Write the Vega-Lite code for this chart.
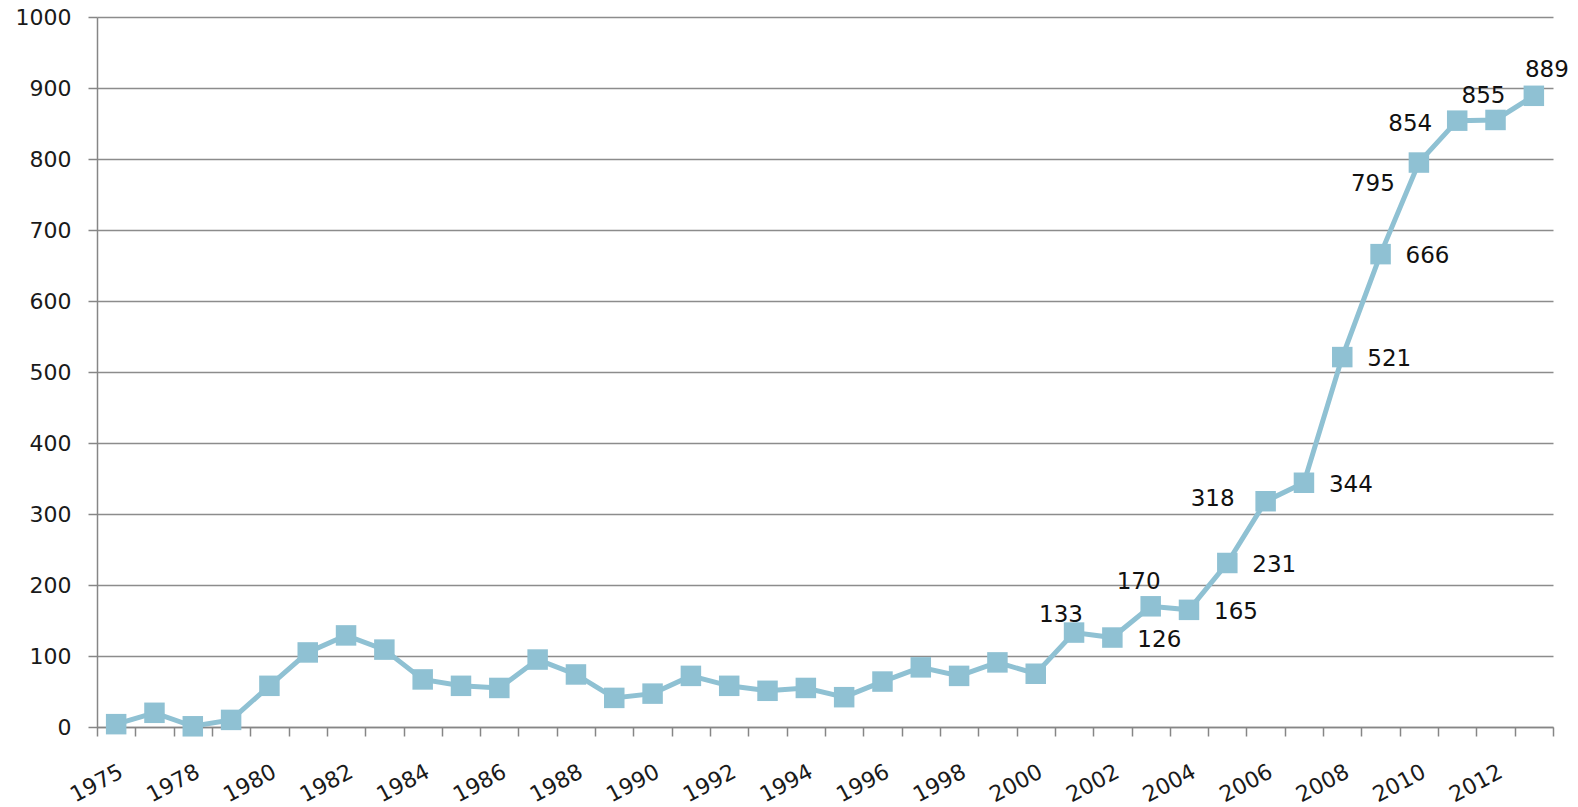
{
  "$schema": "https://vega.github.io/schema/vega-lite/v6.json",
  "width": 1456,
  "height": 710,
  "autosize": "none",
  "padding": {"left": 97, "top": 17, "right": 25, "bottom": 80},
  "background": "white",
  "config": {"view": {"stroke": null}, "font": "DejaVu Sans"},
  "data": {
    "values": [
      {"year": 1975, "value": 4},
      {"year": 1976, "value": 20},
      {"year": 1978, "value": 1},
      {"year": 1979, "value": 10},
      {"year": 1980, "value": 58},
      {"year": 1981, "value": 105},
      {"year": 1982, "value": 129},
      {"year": 1983, "value": 109},
      {"year": 1984, "value": 67},
      {"year": 1985, "value": 58},
      {"year": 1986, "value": 55},
      {"year": 1987, "value": 95},
      {"year": 1988, "value": 74},
      {"year": 1989, "value": 41},
      {"year": 1990, "value": 47},
      {"year": 1991, "value": 72},
      {"year": 1992, "value": 58},
      {"year": 1993, "value": 51},
      {"year": 1994, "value": 55},
      {"year": 1995, "value": 42},
      {"year": 1996, "value": 64},
      {"year": 1997, "value": 84},
      {"year": 1998, "value": 72},
      {"year": 1999, "value": 91},
      {"year": 2000, "value": 75},
      {"year": 2001, "value": 133},
      {"year": 2002, "value": 126},
      {"year": 2003, "value": 170},
      {"year": 2004, "value": 165},
      {"year": 2005, "value": 231},
      {"year": 2006, "value": 318},
      {"year": 2007, "value": 344},
      {"year": 2008, "value": 521},
      {"year": 2009, "value": 666},
      {"year": 2010, "value": 795},
      {"year": 2011, "value": 854},
      {"year": 2012, "value": 855},
      {"year": 2013, "value": 889}
    ]
  },
  "encoding": {
    "x": {
      "field": "year",
      "type": "ordinal",
      "sort": "ascending",
      "scale": {"type": "band", "paddingInner": 0, "paddingOuter": 0},
      "axis": {
        "title": null,
        "grid": false,
        "tickBand": "extent",
        "labelAngle": -28,
        "labelAlign": "right",
        "labelBaseline": "top",
        "labelPadding": 25,
        "labelOverlap": false,
        "labelExpr": "(datum.value == 1975 || (datum.value >= 1978 && datum.value % 2 == 0)) ? datum.label : ''",
        "labelFont": "DejaVu Sans",
        "labelFontSize": 22,
        "labelColor": "#1a1a1a",
        "domainColor": "#868686",
        "domainWidth": 1.5,
        "tickColor": "#868686",
        "tickWidth": 1.5,
        "tickSize": 9
      }
    },
    "y": {
      "field": "value",
      "type": "quantitative",
      "scale": {"domain": [0, 1000], "nice": false},
      "axis": {
        "title": null,
        "format": "d",
        "values": [0, 100, 200, 300, 400, 500, 600, 700, 800, 900, 1000],
        "grid": true,
        "gridColor": "#8c8c8c",
        "gridWidth": 1.5,
        "domainColor": "#868686",
        "domainWidth": 1.5,
        "tickColor": "#868686",
        "tickWidth": 1.5,
        "tickSize": 9,
        "labelFont": "DejaVu Sans",
        "labelFontSize": 22,
        "labelColor": "#1a1a1a",
        "labelPadding": 17
      }
    }
  },
  "layer": [
    {"mark": {"type": "line", "color": "#8FC1D3", "strokeWidth": 5}},
    {"mark": {"type": "point", "shape": "square", "filled": true, "size": 420, "color": "#8FC1D3", "opacity": 1}},
    {
      "transform": [{"filter": {"field": "year", "oneOf": [2002, 2004, 2005, 2007, 2008, 2009]}}],
      "mark": {"type": "text", "align": "left", "baseline": "middle", "dx": 25, "dy": 2, "fontSize": 23, "font": "DejaVu Sans", "color": "#111"},
      "encoding": {"text": {"field": "value", "type": "quantitative"}}
    },
    {
      "transform": [{"filter": {"field": "year", "oneOf": [2006]}}],
      "mark": {"type": "text", "align": "right", "baseline": "middle", "dx": -31, "dy": -2, "fontSize": 23, "font": "DejaVu Sans", "color": "#111"},
      "encoding": {"text": {"field": "value", "type": "quantitative"}}
    },
    {
      "transform": [{"filter": {"field": "year", "oneOf": [2011]}}],
      "mark": {"type": "text", "align": "right", "baseline": "middle", "dx": -25, "dy": 3, "fontSize": 23, "font": "DejaVu Sans", "color": "#111"},
      "encoding": {"text": {"field": "value", "type": "quantitative"}}
    },
    {
      "transform": [{"filter": {"field": "year", "oneOf": [2010]}}],
      "mark": {"type": "text", "align": "right", "baseline": "middle", "dx": -24, "dy": 21, "fontSize": 23, "font": "DejaVu Sans", "color": "#111"},
      "encoding": {"text": {"field": "value", "type": "quantitative"}}
    },
    {
      "transform": [{"filter": {"field": "year", "oneOf": [2001]}}],
      "mark": {"type": "text", "align": "center", "baseline": "middle", "dx": -13, "dy": -18, "fontSize": 23, "font": "DejaVu Sans", "color": "#111"},
      "encoding": {"text": {"field": "value", "type": "quantitative"}}
    },
    {
      "transform": [{"filter": {"field": "year", "oneOf": [2003, 2012]}}],
      "mark": {"type": "text", "align": "center", "baseline": "middle", "dx": -12, "dy": -24, "fontSize": 23, "font": "DejaVu Sans", "color": "#111"},
      "encoding": {"text": {"field": "value", "type": "quantitative"}}
    },
    {
      "transform": [{"filter": {"field": "year", "oneOf": [2013]}}],
      "mark": {"type": "text", "align": "center", "baseline": "middle", "dx": 13, "dy": -26, "fontSize": 23, "font": "DejaVu Sans", "color": "#111"},
      "encoding": {"text": {"field": "value", "type": "quantitative"}}
    }
  ]
}
